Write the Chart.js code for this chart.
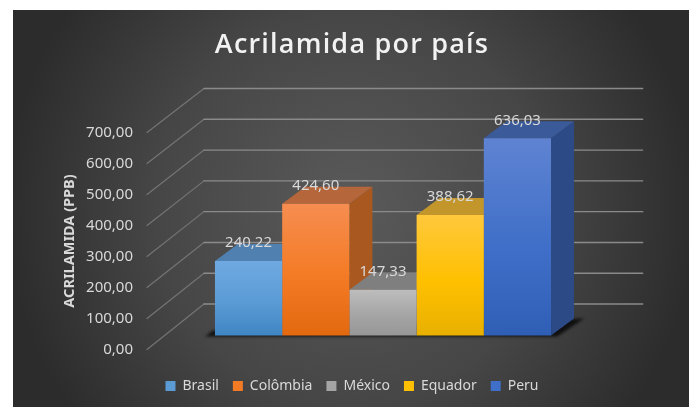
<!DOCTYPE html>
<html lang="pt">
<head>
<meta charset="utf-8">
<title>Acrilamida por país</title>
<script src="https://cdn.jsdelivr.net/npm/chart.js@4"></script>
<style>
  html, body { margin: 0; padding: 0; background: #fff; overflow: hidden; }
  #wrap { position: relative; width: 689px; height: 407px; }
  canvas { display: block; }
</style>
</head>
<body>
<div id="wrap"><canvas id="chart" width="689" height="407"></canvas></div>
<script>
// Acrylamide content per country, one series per country
const categories = ['Acrilamida'];
const countries = ['Brasil', 'Colômbia', 'México', 'Equador', 'Peru'];
const values = [240.22, 424.60, 147.33, 388.62, 636.03];
const yTicks = [0, 100, 200, 300, 400, 500, 600, 700];

// Face shades per country: front gradient stops, top face, right face
const frontStops = [
  ['#6fa9e2', '#5b9bd5', '#3f86c4'],
  ['#f68d50', '#f47b25', '#e2690f'],
  ['#bdbdbd', '#a5a5a5', '#979797'],
  ['#ffc83c', '#ffc000', '#e8b000'],
  ['#5f83d2', '#3f6fc8', '#2f5fb5']
];
const topFaces = ['#4f80b0', '#b5663a', '#7f7f7f', '#c2962a', '#3a5a9a'];
const sideFaces = ['#3f6f9f', '#a9591f', '#6f6f6f', '#b08a10', '#2c4a86'];

// Oblique projection of the 3D box
const depth = { x: 23, y: -17 };
const floorLift = -14;
const wall = { x: 57, y: -45.5, squeeze: 0.993, rightOverhang: 23.7 };

const fmt = v => v.toFixed(2).replace('.', ',');

function frontGradient(chart, i) {
  const y = chart.scales.y;
  const top = y.getPixelForValue(values[i]);
  const g = chart.ctx.createLinearGradient(0, top, 0, y.getPixelForValue(0));
  g.addColorStop(0, frontStops[i][0]);
  g.addColorStop(0.55, frontStops[i][1]);
  g.addColorStop(1, frontStops[i][2]);
  return g;
}

function poly(ctx, pts, fill) {
  ctx.beginPath();
  pts.forEach((p, i) => i ? ctx.lineTo(p[0], p[1]) : ctx.moveTo(p[0], p[1]));
  ctx.closePath();
  ctx.fillStyle = fill;
  ctx.fill();
}

const backdrop = {
  id: 'backdrop',
  beforeDraw(chart) {
    const { ctx, width, height } = chart;
    // the heading is drawn with wider tracking than the other text
    const block = chart.titleBlock;
    if (block && !block.tracked) {
      const drawTitle = block.draw.bind(block);
      block.draw = () => {
        ctx.letterSpacing = '1.2px';
        drawTitle();
        ctx.letterSpacing = '0px';
      };
      block.tracked = true;
    }
    ctx.save();
    ctx.fillStyle = '#fff';
    ctx.fillRect(0, 0, width, height);
    const g = ctx.createRadialGradient(351, 208, 0, 351, 208, 345);
    g.addColorStop(0, '#5a5a5a');
    g.addColorStop(0.57, '#464646');
    g.addColorStop(1, '#2c2c2c');
    ctx.fillStyle = g;
    ctx.fillRect(13, 10, width - 13, height - 10);
    ctx.restore();
  }
};

const box3d = {
  id: 'box3d',
  beforeDatasetsDraw(chart) {
    const { ctx, chartArea, scales } = chart;
    const y = scales.y;
    const base = y.getPixelForValue(0);
    ctx.save();
    ctx.lineCap = 'round';
    // side wall diagonals and back wall lines
    yTicks.forEach(t => {
      const py = y.getPixelForValue(t);
      const by = base + wall.y - (base - py) * wall.squeeze;
      ctx.strokeStyle = '#747474';
      ctx.lineWidth = 1.2;
      ctx.beginPath();
      ctx.moveTo(chartArea.left, py);
      ctx.lineTo(chartArea.left + wall.x, by);
      ctx.stroke();
      ctx.strokeStyle = '#8a8a8a';
      ctx.lineWidth = 1.4;
      ctx.beginPath();
      ctx.moveTo(chartArea.left + wall.x, by);
      ctx.lineTo(chartArea.right + wall.rightOverhang, by);
      ctx.stroke();
    });
    ctx.restore();

    ctx.save();
    ctx.translate(0, floorLift);
    const bars = countries.map((_, i) => chart.getDatasetMeta(i).data[0]);
    const left = bars[0].x - bars[0].width / 2;
    const last = bars[bars.length - 1];
    const right = last.x + last.width / 2;
    // soft floor shadow under the boxes
    ctx.save();
    ctx.filter = 'blur(1.5px)';
    poly(ctx, [
      [left - 10, base + 1],
      [left - 2, base - 5],
      [right + depth.x + 10, base + depth.y],
      [right + 6, base + 1]
    ], 'rgba(0,0,0,0.75)');
    ctx.restore();
    // right and top faces, left to right so each top covers the side before it
    bars.forEach((b, i) => {
      const l = b.x - b.width / 2, r = b.x + b.width / 2;
      poly(ctx, [
        [r, b.y], [r + depth.x, b.y + depth.y],
        [r + depth.x, base + depth.y], [r, base]
      ], sideFaces[i]);
      poly(ctx, [
        [l, b.y], [r, b.y],
        [r + depth.x, b.y + depth.y], [l + depth.x, b.y + depth.y]
      ], topFaces[i]);
    });
    ctx.restore();
    // the front faces are painted by the bar elements, in the same lifted frame
    ctx.save();
    ctx.translate(0, floorLift);
  },
  afterDatasetsDraw(chart) {
    const { ctx } = chart;
    ctx.restore();
    ctx.save();
    ctx.translate(0, floorLift);
    ctx.font = '15px "Noto Sans"';
    ctx.fillStyle = '#d9d9d9';
    ctx.textAlign = 'center';
    ctx.textBaseline = 'middle';
    countries.forEach((_, i) => {
      const b = chart.getDatasetMeta(i).data[0];
      ctx.fillText(fmt(values[i]), b.x, b.y - 18);
    });
    ctx.restore();
  }
};

new Chart(document.getElementById('chart'), {
  type: 'bar',
  data: {
    labels: categories,
    datasets: countries.map((name, i) => ({
      label: name,
      data: [values[i]],
      backgroundColor: ctx => frontGradient(ctx.chart, i),
      borderWidth: 0,
      categoryPercentage: 0.712,
      barPercentage: 1,
      clip: false
    }))
  },
  plugins: [backdrop, box3d],
  options: {
    responsive: false,
    animation: false,
    layout: { padding: { left: 59, right: 44, top: 29, bottom: 4 } },
    plugins: {
      tooltip: { enabled: false },
      title: {
        display: true,
        text: 'Acrilamida por país',
        color: '#f2f2f2',
        font: { family: '"Open Sans"', size: 27, weight: '600' },
        padding: { top: 0, bottom: 71.1 }
      },
      legend: {
        position: 'bottom',
        labels: {
          color: '#d9d9d9',
          boxWidth: 10,
          boxHeight: 10,
          padding: 14,
          font: { family: '"Noto Sans"', size: 14 },
          generateLabels: () => countries.map((name, i) => ({
            text: name,
            fillStyle: frontStops[i][1],
            strokeStyle: 'transparent',
            lineWidth: 0,
            fontColor: '#d9d9d9',
            datasetIndex: i
          }))
        }
      }
    },
    scales: {
      // keeps the floor clear of the legend
      x: {
        display: true,
        ticks: { display: false },
        grid: { display: false },
        border: { display: false },
        afterFit: s => { s.height = 15.5; }
      },
      y: {
        min: 0,
        max: 700,
        afterFit: s => { s.width = 88; },
        afterBuildTicks: s => { s.ticks = yTicks.map(value => ({ value })); },
        grid: { display: false, drawTicks: false },
        border: { display: false },
        ticks: {
          color: '#d9d9d9',
          padding: 14,
          font: { family: '"Noto Sans"', size: 15 },
          callback: v => fmt(v)
        },
        title: {
          display: true,
          text: 'ACRILAMIDA (PPB)',
          color: '#d9d9d9',
          font: { family: '"Noto Sans"', size: 14.5, weight: 'bold' },
          padding: { top: 2, bottom: 0 }
        }
      },
      // reserves the room the back wall runs into on the right
      wallRoom: {
        position: 'right',
        display: true,
        min: 0,
        max: 700,
        ticks: { display: false },
        grid: { display: false },
        border: { display: false },
        afterFit: s => { s.width = 26; }
      }
    }
  }
});
</script>
</body>
</html>
